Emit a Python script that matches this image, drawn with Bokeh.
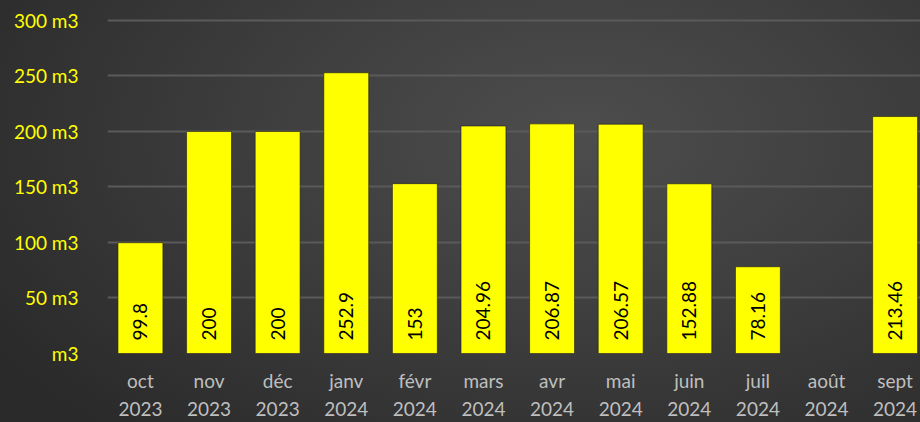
import math
from bokeh.plotting import figure
from bokeh.models import Range1d, FixedTicker
from bokeh.core.properties import value
from bokeh.embed import file_html
from bokeh.resources import INLINE

months = ["oct", "nov", "déc", "janv", "févr", "mars", "avr", "mai", "juin", "juil", "août", "sept"]
years = ["2023", "2023", "2023", "2024", "2024", "2024", "2024", "2024", "2024", "2024", "2024", "2024"]
volumes = [99.8, 200, 200, 252.9, 153, 204.96, 206.87, 206.57, 152.88, 78.16, None, 213.46]
y_ticks = [0, 50, 100, 150, 200, 250, 300]

idx = [i for i, v in enumerate(volumes) if v is not None]
vals = [volumes[i] for i in idx]
lbls = [f"{v:g}" for v in vals]

p = figure(width=920, height=422, output_backend="svg", toolbar_location=None,
           x_range=Range1d(-0.48, 11.37), y_range=Range1d(0, 318),
           min_border_left=107, min_border_right=0, min_border_top=0, min_border_bottom=68)
p.styles = {"background": "radial-gradient(ellipse 75% 95% at 63% 32%, #4d4d4d 0%, #404040 40%, #2a2a2a 100%)"}
p.border_fill_color = None
p.background_fill_color = None
p.outline_line_color = None

p.vbar(x=idx, top=vals, bottom=0, width=0.655, fill_color="#ffff00", line_color="#1a1a1a", line_width=0.6)
p.text(x=idx, y=[0] * len(idx), text=lbls, angle=math.pi / 2, text_align="left", text_baseline="middle",
       y_offset=-13, text_color="black", text_font=value("Lato"), text_font_size="19px")

p.xgrid.grid_line_color = None
p.ygrid.grid_line_color = "#5a5a5a"
p.ygrid.grid_line_width = 2
p.ygrid.ticker = FixedTicker(ticks=y_ticks)

ya = p.yaxis[0]
ya.ticker = FixedTicker(ticks=y_ticks)
ya.major_label_overrides = {t: (f"{t} m3" if t else "m3") for t in y_ticks}
ya.axis_line_color = None
ya.major_tick_line_color = None
ya.minor_tick_line_color = None
ya.major_label_text_color = "#ffff00"
ya.major_label_text_font = "Lato"
ya.major_label_text_font_size = "19px"
ya.major_label_standoff = 23

xa = p.xaxis[0]
xa.ticker = FixedTicker(ticks=list(range(len(months))))
xa.major_label_overrides = {i: f"{m}\n{y}" for i, (m, y) in enumerate(zip(months, years))}
xa.axis_line_color = None
xa.major_tick_line_color = None
xa.minor_tick_line_color = None
xa.major_label_text_color = "#bfbfbf"
xa.major_label_text_font = "Lato"
xa.major_label_text_font_size = "19px"
xa.major_label_text_line_height = 1.22
xa.major_label_standoff = 9

open("out.html", "w").write(file_html(p, INLINE))
